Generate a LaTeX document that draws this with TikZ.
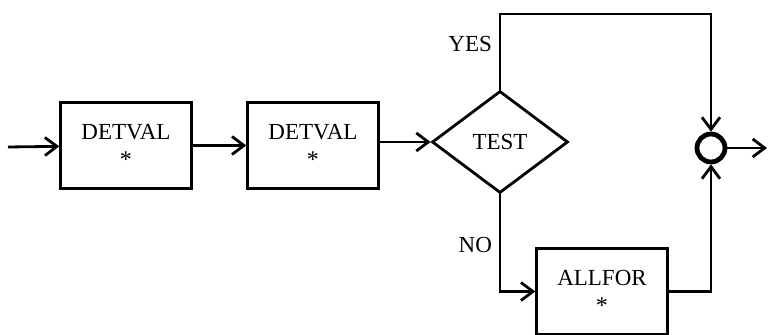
\documentclass[tikz,border=0pt]{standalone}
\usepackage{fontspec}
\setmainfont{Liberation Serif}
\usetikzlibrary{arrows.meta,shapes.geometric}
\begin{document}
\begin{tikzpicture}[>={Straight Barb[length=6pt,width=9pt]}, x=0.5pt, y=-0.5pt,
  line width=1.4pt, font=\fontsize{11.5}{14}\selectfont,
  box/.style={draw, line width=1.2pt, minimum width=65.5pt, minimum height=43pt, align=center},
  test/.style={draw, diamond, aspect=1.33, minimum width=68pt, minimum height=51pt, inner sep=0pt}]
\useasboundingbox (0,0) rectangle (768,335);

\node[box] (d1) at (126,145.5) {DETVAL\\{\large *}};
\node[box] (d2) at (313,145.5) {DETVAL\\{\large *}};
\node[test] (test) at (500,142) {TEST};
\node[box] (allfor) at (602,291.5) {ALLFOR\\{\large *}};
\node[circle, draw, line width=2.4pt, minimum size=14pt, inner sep=0pt] (join) at (711,148) {};
\coordinate (in) at (8,147);
\coordinate (out) at (767,148);
\coordinate (yes) at (710,14);

\draw[->] (in) -- (d1);
\draw[->] (d1) -- (d2);
\draw[->] (d2.east |- test.west) -- (test.west);
% yes branch goes over the top into the join
\draw[->] (test.north) -- node[left, pos=.6]{YES} (test.north |- yes) -| (join.north);
% no branch runs through allfor
\draw[->] (test.south) -- node[left, pos=.52]{NO} (test.south |- allfor.west) -- (allfor.west);
\draw[->] (allfor.east) -| (join.south);
\draw[->] (join.east) -- (out);

\end{tikzpicture}
\end{document}
